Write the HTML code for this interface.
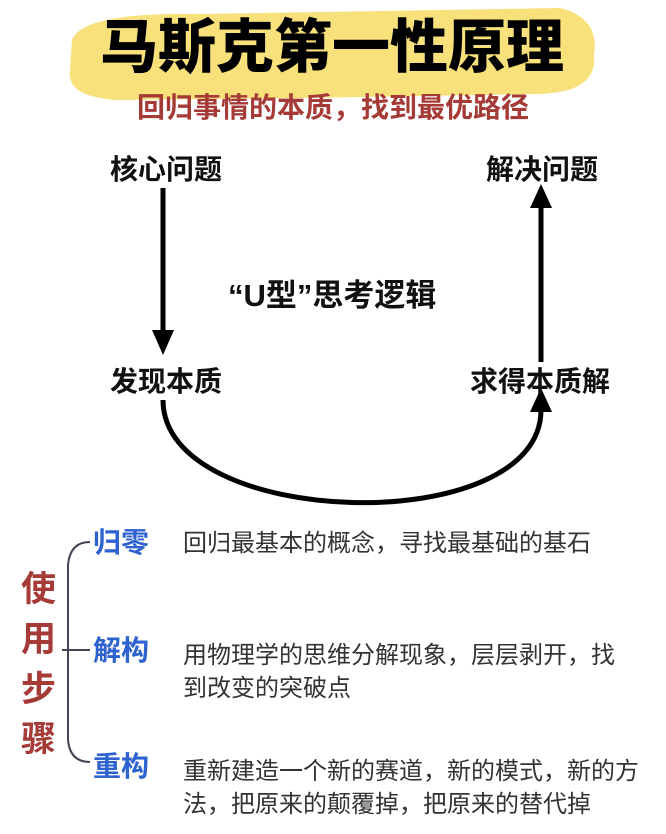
<!DOCTYPE html>
<html><head><meta charset="utf-8"><style>
body{margin:0;width:666px;height:834px;background:#fff;position:relative;overflow:hidden;font-family:"Liberation Sans","Noto Sans CJK SC",sans-serif}
.a{position:absolute;white-space:nowrap;line-height:1}
.n{font-size:28px;font-weight:bold;color:#111}
.b{font-size:28px;font-weight:bold;color:#2d62d0}
.d{font-size:24px;color:#333;line-height:33px}
.r{font-size:35px;font-weight:bold;color:#a53a36}
</style></head><body>
<svg width="666" height="834" style="position:absolute;left:0;top:0">
<path d="M72,40 Q82,12 200,14 L560,8 Q600,18 594,55 Q598,92 540,94 L300,98 L120,100 Q66,98 70,70 Z" fill="#f8e07a"/>
<g stroke="#000" stroke-width="5" fill="none">
<line x1="163" y1="188" x2="163" y2="332"/>
<line x1="541" y1="362" x2="541" y2="205"/>
<path d="M163,400 C163,530 541,540 541,410"/>
</g>
<polygon points="152,330 174,330 163,355" fill="#000"/>
<polygon points="530,208 552,208 541,184" fill="#000"/>
<polygon points="530,412 552,412 541,388" fill="#000"/>
<path d="M90,542 Q70,542 68,565 L68,740 Q70,762 90,762" stroke="#445" stroke-width="2" fill="none"/>
<line x1="62" y1="650" x2="90" y2="650" stroke="#445" stroke-width="2"/>
</svg>
<div class="a" style="left:100px;top:19px;font-size:58px;font-weight:900;color:#000">马斯克第一性原理</div>
<div class="a" style="left:137px;top:94px;font-size:28px;font-weight:bold;color:#a53a36">回归事情的本质，找到最优路径</div>
<div class="a n" style="left:110px;top:156px">核心问题</div>
<div class="a n" style="left:486px;top:156px">解决问题</div>
<div class="a n" style="left:110px;top:368px">发现本质</div>
<div class="a n" style="left:470px;top:368px">求得本质解</div>
<div class="a" style="left:228px;top:280px;font-size:31px;font-weight:bold;color:#111">“U型”思考逻辑</div>
<div class="a r" style="left:21px;top:572px">使</div>
<div class="a r" style="left:21px;top:622px">用</div>
<div class="a r" style="left:21px;top:672px">步</div>
<div class="a r" style="left:21px;top:722px">骤</div>
<div class="a b" style="left:93px;top:529px">归零</div>
<div class="a b" style="left:93px;top:637px">解构</div>
<div class="a b" style="left:93px;top:753px">重构</div>
<div class="a d" style="left:183px;top:527px">回归最基本的概念，寻找最基础的基石</div>
<div class="a d" style="left:183px;top:639px">用物理学的思维分解现象，层层剥开，找<br>到改变的突破点</div>
<div class="a d" style="left:183px;top:755px">重新建造一个新的赛道，新的模式，新的方<br>法，把原来的颠覆掉，把原来的替代掉</div>
</body></html>
